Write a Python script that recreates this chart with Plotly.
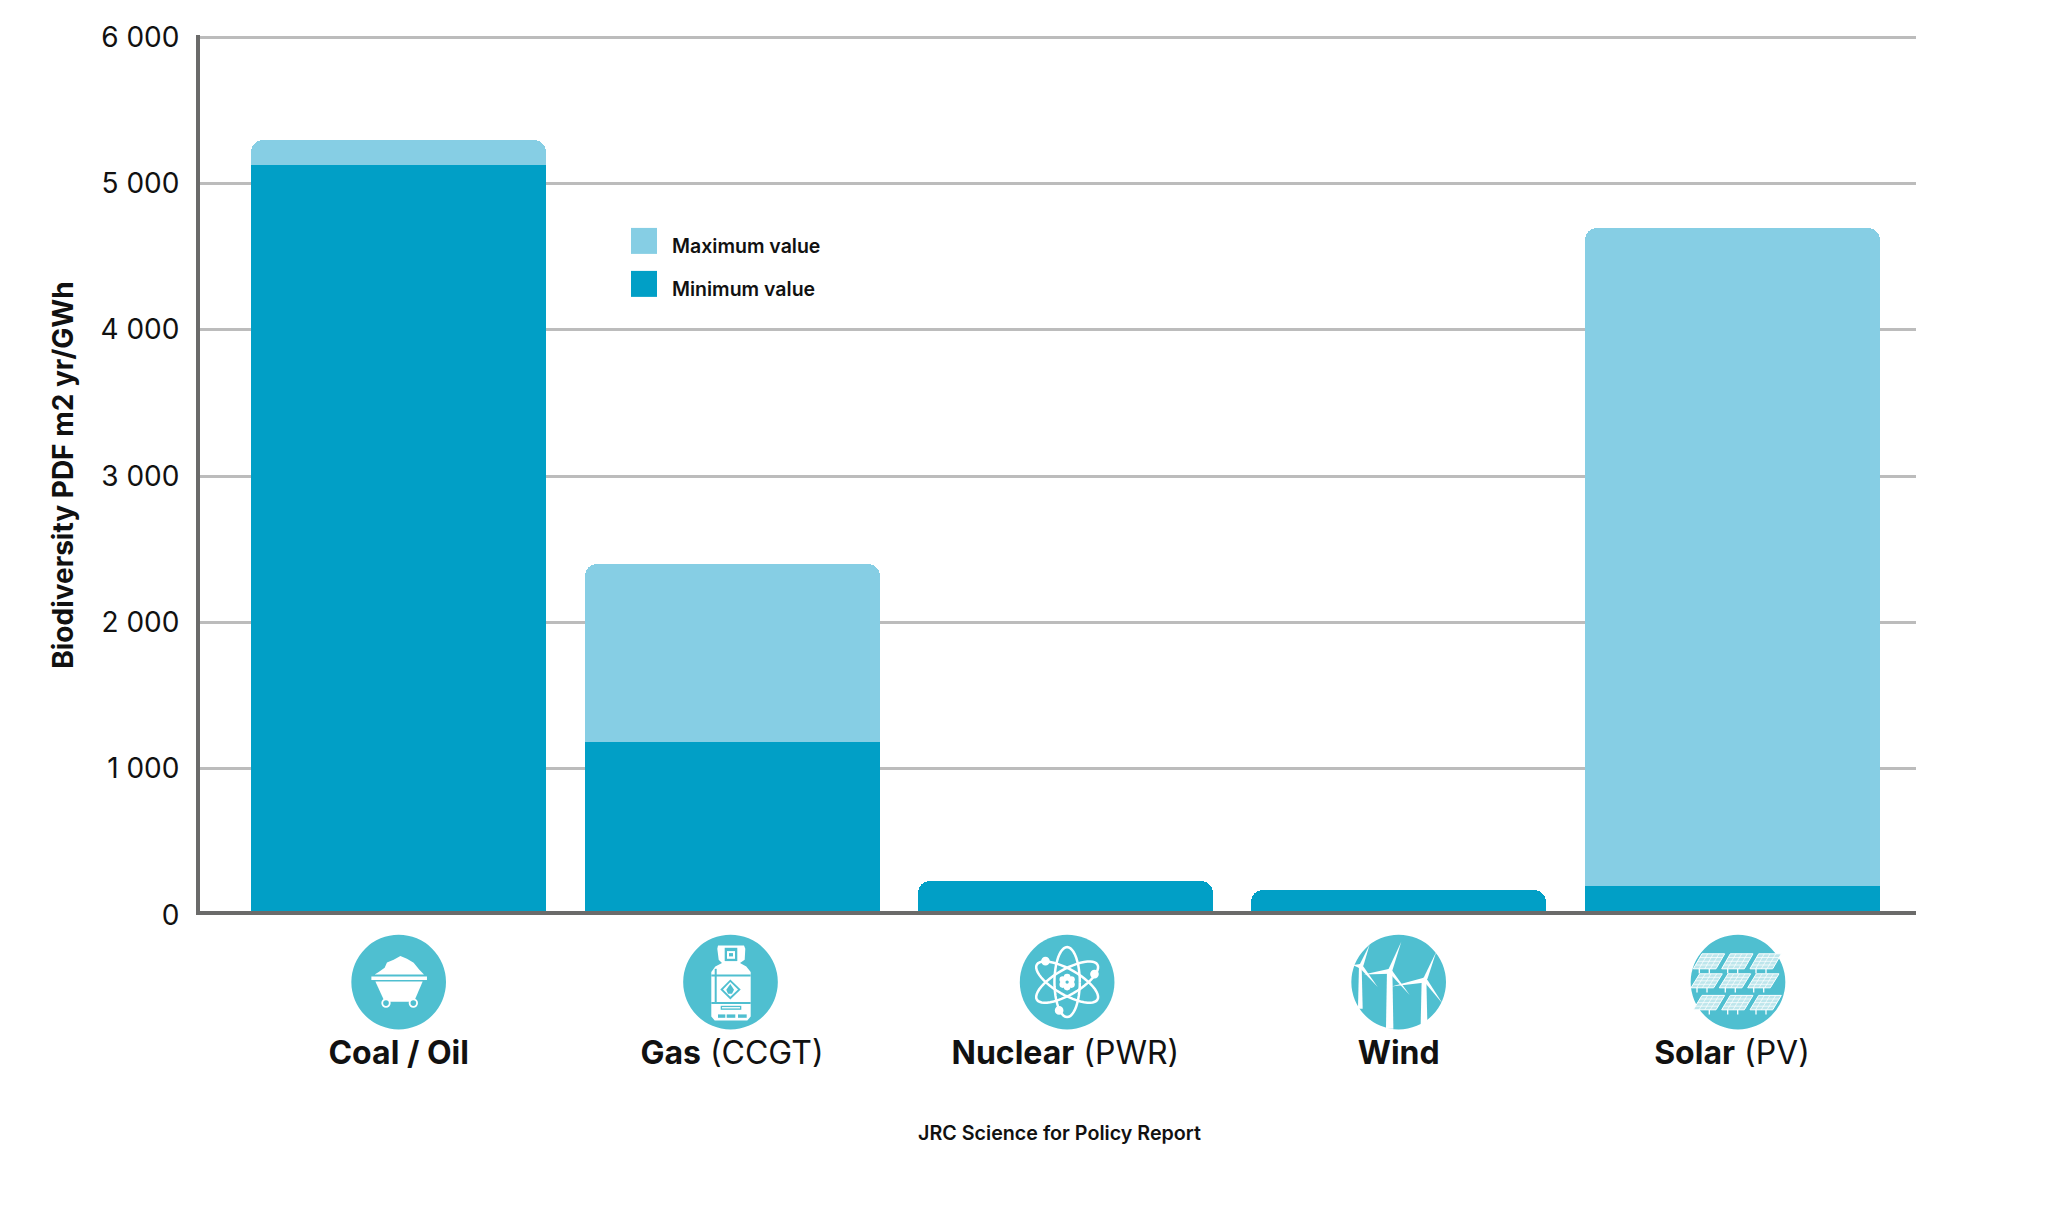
import math
import plotly.graph_objects as go

categories = ["<b>Coal / Oil</b>", "<b>Gas</b> (CCGT)", "<b>Nuclear</b> (PWR)", "<b>Wind</b>", "<b>Solar</b> (PV)"]
minimum_value = [5125, 1180, 235, 173, 201]
maximum_value = [5296, 2397, 235, 173, 4695]
y_ticks = [0, 1000, 2000, 3000, 4000, 5000, 6000]

FONT = "Inter"
DARK = "#019fc6"
LIGHT = "#86cee4"
TEAL = "#4fbfd0"
# page pixel positions of the plot area; the page body adds an 8px margin
L, R, T, B = 200, 1916, 35, 915.4
W, H = 2052, 1189
OFF = 8

extra = [a - b for a, b in zip(maximum_value, minimum_value)]
positions = list(range(len(categories)))

fig = go.Figure()
fig.add_bar(name="Minimum value", x=positions, y=minimum_value, marker=dict(color=DARK, line=dict(width=0)), width=0.885)
fig.add_bar(name="Maximum value", x=positions, y=extra, marker=dict(color=LIGHT, line=dict(width=0)), width=0.885)

shapes, annotations = [], []


def px(x):
    return (x - L) / (R - L)


def py(y):
    return (B - y) / (B - T)


# legend
for label, color, top in [("Maximum value", LIGHT, 228), ("Minimum value", DARK, 271)]:
    shapes.append(dict(type="rect", xref="paper", yref="paper", x0=px(631), x1=px(657), y0=py(top), y1=py(top + 26),
                       fillcolor=color, line=dict(width=0), layer="above"))
    annotations.append(dict(text=label, xref="paper", yref="paper", x=px(670), y=py(top + 18), xanchor="left",
                            yanchor="middle", showarrow=False, font=dict(family=FONT, size=19.5, color="#111", weight=600)))

annotations.append(dict(text="JRC Science for Policy Report", xref="paper", yref="paper", x=px(1059.5), y=py(1133.5),
                        xanchor="center", yanchor="middle", showarrow=False,
                        font=dict(family=FONT, size=19.7, color="#111", weight=600)))

# icons: coordinates below are measured on a 3x crop of each icon
ICON_Y = B - 982.5


def add_icon(index, zcx, dx):
    zcy = 155

    def X(v):
        return (v - zcx) / 3 + dx

    def Y(v):
        return (zcy - v) / 3 + ICON_Y

    def base(**kw):
        d = dict(xref="x", yref="paper", xanchor=index, yanchor=0, xsizemode="pixel", ysizemode="pixel",
                 layer="above", line=dict(width=0))
        d.update(kw)
        return d

    def poly(pts, fill="white", line=None):
        path = "M" + "L".join(f"{X(a):.1f},{Y(b):.1f}" for a, b in pts) + "Z"
        shapes.append(base(type="path", path=path, fillcolor=fill, line=line or dict(width=0)))

    def stroke(pts, color="white", width=1.0):
        path = "M" + "L".join(f"{X(a):.1f},{Y(b):.1f}" for a, b in pts)
        shapes.append(base(type="path", path=path, line=dict(color=color, width=width)))

    def circ(cx, cy, r, fill="white", line=None):
        shapes.append(base(type="circle", x0=X(cx - r), x1=X(cx + r), y0=Y(cy + r), y1=Y(cy - r), fillcolor=fill,
                           line=line or dict(width=0)))

    circ(zcx, zcy, 142, fill=TEAL)
    return poly, stroke, circ


# coal
poly, stroke, circ = add_icon(0, 160, 0)
poly([(88, 132), (100, 125), (118, 112), (125, 96), (145, 88), (165, 77), (185, 85), (205, 97), (222, 118), (236, 132)])
poly([(78, 138), (245, 138), (245, 149), (78, 149)])
poly([(90, 153), (232, 153), (206, 214), (118, 214)])
for cx in (122, 204):
    circ(cx, 218, 14)
    circ(cx, 218, 8.5, fill=TEAL)

# gas
poly, stroke, circ = add_icon(1, 157.5, -1.5)
poly([(120, 45), (198, 45), (202, 55), (200, 88), (186, 98), (205, 108), (218, 125), (218, 258), (208, 270), (110, 270),
      (100, 258), (100, 125), (112, 108), (132, 98), (122, 88), (118, 55)])
poly([(140, 52), (178, 52), (178, 92), (140, 92)], fill=TEAL)
poly([(147, 62), (171, 62), (171, 85), (147, 85)])
poly([(153, 68), (165, 68), (165, 78), (153, 78)], fill=TEAL)
stroke([(100, 135), (218, 135)], color=TEAL, width=2)
stroke([(113, 115), (113, 216)], color=TEAL, width=2)
stroke([(100, 218), (218, 218)], color=TEAL, width=2)
poly([(157, 147), (188, 177), (157, 207), (127, 177)], fill=TEAL)
poly([(157, 155), (180, 177), (157, 199), (135, 177)])
poly([(157, 161), (168, 178), (162, 190), (150, 190), (145, 178)], fill=TEAL)
poly([(128, 226), (190, 226), (190, 238), (128, 238)], fill=TEAL)
poly([(132, 230), (186, 230), (186, 234), (132, 234)])
for a, b in [(120, 142), (146, 172), (180, 206)]:
    poly([(a, 252), (b, 252), (b, 262), (a, 262)], fill=TEAL)

# nuclear
poly, stroke, circ = add_icon(2, 166, 1.8)
for angle in (0, 60, -60):
    pts = []
    for k in range(49):
        t = 2 * math.pi * k / 48
        ex, ey = 38 * math.cos(t), 105 * math.sin(t)
        ca, sa = math.cos(math.radians(angle)), math.sin(math.radians(angle))
        pts.append((166 + ex * ca - ey * sa, 155 + ex * sa + ey * ca))
    stroke(pts, width=2.5)
circ(101, 92, 13)
circ(248, 131, 13)
circ(142, 240, 13)
for k in range(6):
    a = math.pi / 3 * k + math.pi / 6
    circ(166 + 15 * math.cos(a), 155 + 15 * math.sin(a), 10)
circ(166, 155, 14)
circ(166, 155, 5, fill=TEAL)

# wind
poly, stroke, circ = add_icon(3, 160, 0)
towers = [(38, 52, 108, 235), (122, 144, 120, 295), (226, 246, 148, 282)]
for x0, x1, y0, y1 in towers:
    poly([(x0 + 3, y0), (x1 - 3, y0), (x1, y1), (x0, y1)])
hubs = [
    (46, 108, (73, 42), (22, 104), (97, 170)),
    (133, 122, (168, 33), (55, 132), (193, 194)),
    (238, 148, (273, 63), (138, 168), (292, 220)),
]
for hx, hy, up, left, down in hubs:
    poly([(hx - 6, hy), up, (hx + 8, hy - 2)])
    poly([(hx, hy - 7), left, (hx + 2, hy + 8)])
    poly([(hx - 4, hy + 3), down, (hx + 6, hy - 3)])
    circ(hx, hy, 7)

# solar
poly, stroke, circ = add_icon(4, 180, 6)
rows = [(70, 115, 72), (130, 172, 65), (195, 238, 72)]
cols = [0, 85, 170]
for ty, by, tx in rows:
    for c in cols:
        tl, tr = tx + c, tx + c + 68
        skew = 26
        poly([(tl, ty), (tr, ty), (tr - skew, by), (tl - skew, by)], fill="#bde6ec", line=dict(color="white", width=1))
        for leg in (tl - skew + 18, tl - skew + 48):
            stroke([(leg, by), (leg, by + 14)], width=1.3)
        for f in (0.25, 0.5, 0.75):
            stroke([(tl - skew * f, ty + (by - ty) * f), (tr - skew * f, ty + (by - ty) * f)], width=0.7)
        for f in (0.25, 0.5, 0.75):
            stroke([(tl + 68 * f, ty), (tl + 68 * f - skew, by)], width=0.7)

fig.update_layout(
    width=W,
    height=H,
    barmode="stack",
    barcornerradius=12,
    bargap=0,
    showlegend=False,
    plot_bgcolor="white",
    paper_bgcolor="white",
    separators=". ",
    margin=dict(l=L - OFF, r=W - (R - OFF), t=T - OFF, b=H - (B - OFF), pad=0),
    font=dict(family=FONT, color="#111"),
    shapes=shapes,
    annotations=annotations,
    xaxis=dict(
        range=[-0.596, 4.552],
        tickvals=positions,
        ticktext=categories,
        anchor="free",
        position=0.0019,
        showgrid=False,
        zeroline=False,
        showline=True,
        linecolor="#6b6b6a",
        linewidth=4,
        ticks="",
        ticklabelstandoff=110,
        tickfont=dict(family=FONT, size=32, color="#111"),
    ),
    yaxis=dict(
        range=[0, 6013.7],
        tickvals=y_ticks,
        tickformat=",d",
        showgrid=True,
        gridcolor="#bcbcbc",
        gridwidth=2.5,
        zeroline=False,
        showline=True,
        linecolor="#6b6b6a",
        linewidth=4,
        ticks="",
        ticklabelstandoff=11,
        tickfont=dict(family=FONT, size=28, color="#111"),
        title=dict(text="<b>Biodiversity PDF m2 yr/GWh</b>", standoff=20, font=dict(family=FONT, size=28, color="#111")),
    ),
)

fig.write_html("out.html")
